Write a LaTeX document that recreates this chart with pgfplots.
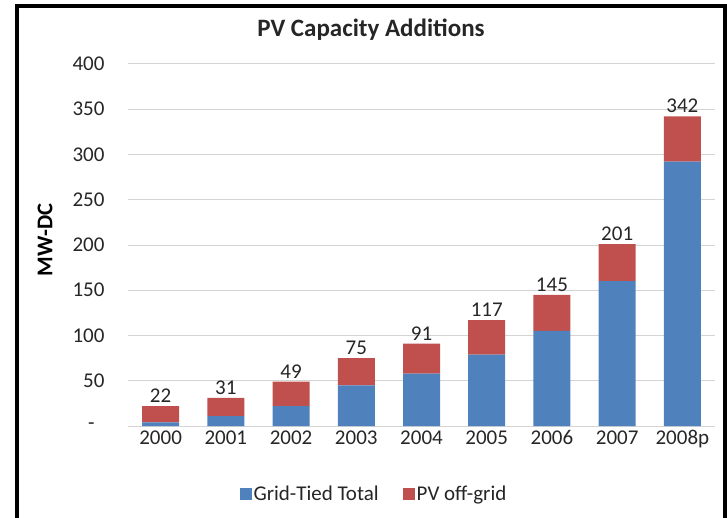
\documentclass[border=0pt]{standalone}
\usepackage{pgfplots}
\usepackage{pgfplotstable}
\pgfplotsset{compat=1.18}
\usepackage{fontspec}
\setmainfont{Carlito}

\definecolor{gridblue}{HTML}{4F81BD}
\definecolor{offred}{HTML}{C0504D}
\definecolor{gridgray}{HTML}{D4D4D4}
\definecolor{txt}{HTML}{262626}

\pgfplotstableread{
x blue red total
0 4 18 22
1 11 20 31
2 22 27 49
3 45 30 75
4 58 33 91
5 79 38 117
6 105 40 145
7 160 41 201
8 292 50 342
}\pvdata

\begin{document}
\begin{tikzpicture}[x=1pt,y=1pt]
\useasboundingbox (0,0) rectangle (727,517);
\draw[line width=4pt, black] (17,-5) -- (17,511) -- (724.5,511) -- (724.5,-5);
\node[font=\bfseries\fontsize{25}{30}\selectfont, text=txt] at (371,487) {PV Capacity Additions};
\begin{axis}[
  at={(128pt,91pt)}, anchor=south west,
  scale only axis, width=587pt, height=362pt,
  xmin=-0.5, xmax=8.5, ymin=0, ymax=400,
  ybar stacked, bar width=37pt,
  axis line style={draw=none},
  tick style={draw=none},
  ymajorgrids, grid style={gridgray, line width=1pt},
  xtick={0,...,8},
  xticklabels={2000,2001,2002,2003,2004,2005,2006,2007,2008p},
  ytick={0,50,...,400},
  yticklabels={-\kern10pt,50,100,150,200,250,300,350,400},
  ticklabel style={font=\fontsize{21}{24}\selectfont, text=txt},
  yticklabel style={xshift=-20pt},
  xticklabel style={yshift=-1pt},
  ylabel={MW-DC},
  ylabel style={font=\bfseries\fontsize{22.5}{26}\selectfont, text=black, at={(rel axis cs:-0.1414,0.514)}, anchor=center},
  legend style={at={(rel axis cs:0.419,-0.188)}, anchor=center, draw=none,
    font=\fontsize{21}{24}\selectfont, text=txt,
    /tikz/every even column/.append style={column sep=22pt}},
  legend columns=2,
  legend image code/.code={\fill[#1] (0pt,-6pt) rectangle (12pt,6pt);},
]
\addplot[fill=gridblue, draw=none] table[x=x, y=blue] {\pvdata};
\addlegendentry{Grid-Tied Total}
\addplot[fill=offred, draw=none] table[x=x, y=red] {\pvdata};
\addlegendentry{PV off-grid}
\end{axis}
\begin{axis}[
  at={(128pt,91pt)}, anchor=south west,
  scale only axis, width=587pt, height=362pt,
  xmin=-0.5, xmax=8.5, ymin=0, ymax=400,
  hide axis, ybar, bar width=37pt,
  /pgf/number format/assume math mode=true,
]
\addplot[draw=none, fill=none, nodes near coords,
  nodes near coords style={font=\fontsize{21}{24}\selectfont, text=txt, anchor=south, yshift=0pt}]
  table[x=x, y=total] {\pvdata};
\end{axis}
\end{tikzpicture}
\end{document}
